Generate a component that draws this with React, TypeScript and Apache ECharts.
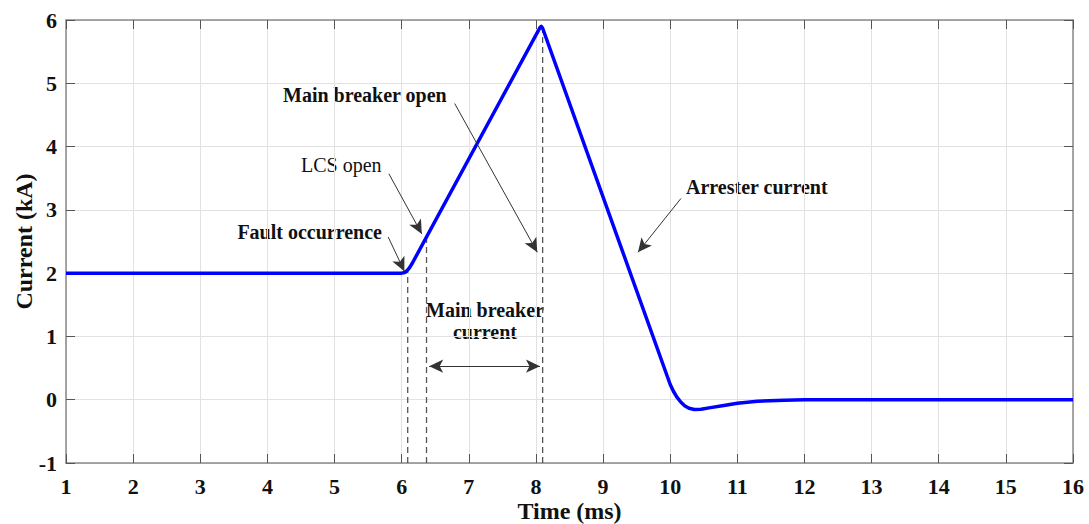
import React, { useEffect, useRef } from "react";
import * as echarts from "echarts";

// Branch current during a DC fault interruption (time in ms, current in kA)
const currentTrace: [number, number][] = [
  [1.0, 2.0], [2.0, 2.0], [3.0, 2.0], [4.0, 2.0], [5.0, 2.0], [6.0, 2.0],
  [6.03, 2.005], [6.06, 2.02], [6.09, 2.05], [6.12, 2.09], [6.16, 2.16],
  [8.06, 5.88], [8.08, 5.9], [8.1, 5.87],
  [10.0, 0.24], [10.05, 0.13], [10.1, 0.04], [10.16, -0.04], [10.22, -0.1],
  [10.28, -0.135], [10.36, -0.155], [10.46, -0.15], [10.6, -0.125], [10.8, -0.09],
  [11.0, -0.055], [11.3, -0.025], [11.7, -0.008], [12.0, 0.0], [13.0, 0.0],
  [14.0, 0.0], [15.0, 0.0], [16.0, 0.0],
];

// Event instants (ms) with the current reached at each one (kA)
const faultTime = 6.09;
const faultLevel = 2.04;
const lcsTime = 6.37;
const lcsLevel = 2.58;
const peakTime = 8.1;
const peakLevel = 5.86;

const xTicks = [1, 16, 1];
const yTicks = [-1, 6, 1];

// Annotation arrows: [start, tip] in (ms, kA)
const arrowMainBreakerOpen: [number, number][] = [[6.79, 4.68], [8.02, 2.33]];
const arrowLcsOpen: [number, number][] = [[5.81, 3.57], [6.3, 2.62]];
const arrowFault: [number, number][] = [[5.8, 2.57], [6.04, 2.03]];
const arrowArrester: [number, number][] = [[10.16, 3.18], [9.52, 2.33]];
const spanMainBreaker: [number, number][] = [[6.41, 0.53], [8.06, 0.53]];

const FONT = '"Liberation Serif", "Times New Roman", serif';

export default function App() {
  const ref = useRef<HTMLDivElement>(null);

  useEffect(() => {
    document.body.style.margin = "0";
    document.documentElement.style.overflow = "hidden";
    if (!ref.current) return;
    const chart = echarts.init(ref.current, undefined, { renderer: "svg" });

    const frameLine = { show: true, onZero: false, lineStyle: { color: "#8a8a8a", width: 1.5 } };
    const innerTicks = { show: true, inside: true, length: 9, lineStyle: { color: "#555", width: 1 } };
    const tickLabel = { color: "#111", fontFamily: FONT, fontWeight: "bold" as const, fontSize: 22 };

    const arrowLine = (pts: [number, number][], both = false) => ({
      silent: true,
      symbol: both ? ["arrow", "arrow"] : ["none", "arrow"],
      symbolSize: [10, 14],
      label: { show: false },
      lineStyle: { color: "#333", width: 1, type: "solid" as const },
      data: [[{ coord: pts[0] }, { coord: pts[1] }]],
    });

    const dashed = (t: number, level: number) => ({
      type: "line" as const,
      data: [[t, yTicks[0]], [t, level]],
      symbol: "none",
      silent: true,
      z: 1,
      lineStyle: { color: "#555", width: 1.3, type: [6, 4] as number[] },
    });

    const emptyLine = (pts: [number, number][], both = false) => ({
      type: "line" as const,
      data: [],
      symbol: "none",
      markLine: arrowLine(pts, both),
    });

    const note = (text: string, x: number, y: number, align: string, bold = true) => ({
      type: "text",
      x,
      y,
      style: {
        text,
        font: `${bold ? "bold " : ""}20px ${FONT}`,
        fill: "#111",
        align,
        verticalAlign: "middle",
      },
    });

    chart.setOption({
      animation: false,
      backgroundColor: "#fff",
      grid: { left: 66, right: 16, top: 20, bottom: 61, outerBoundsMode: "none" },
      xAxis: [
        {
          type: "value",
          min: xTicks[0],
          max: xTicks[1],
          interval: xTicks[2],
          name: "Time (ms)",
          nameLocation: "middle",
          nameMoveOverlap: false,
          nameGap: 36,
          nameTextStyle: { ...tickLabel, fontSize: 24, lineHeight: 24 },
          axisLine: frameLine,
          axisTick: innerTicks,
          axisLabel: { ...tickLabel, margin: 12 },
          splitLine: { show: true, lineStyle: { color: "#e2e2e2", width: 1 } },
        },
        {
          type: "value",
          position: "top",
          min: xTicks[0],
          max: xTicks[1],
          interval: xTicks[2],
          axisLine: frameLine,
          axisTick: innerTicks,
          axisLabel: { show: false },
          splitLine: { show: false },
        },
      ],
      yAxis: [
        {
          type: "value",
          min: yTicks[0],
          max: yTicks[1],
          interval: yTicks[2],
          name: "Current (kA)",
          nameLocation: "middle",
          nameMoveOverlap: false,
          nameGap: 30,
          nameTextStyle: { ...tickLabel, fontSize: 24 },
          axisLine: frameLine,
          axisTick: innerTicks,
          axisLabel: { ...tickLabel, margin: 9 },
          splitLine: { show: true, lineStyle: { color: "#e2e2e2", width: 1 } },
        },
        {
          type: "value",
          position: "right",
          min: yTicks[0],
          max: yTicks[1],
          interval: yTicks[2],
          axisLine: frameLine,
          axisTick: innerTicks,
          axisLabel: { show: false },
          splitLine: { show: false },
        },
      ],
      series: [
        dashed(faultTime, faultLevel),
        dashed(lcsTime, lcsLevel),
        dashed(peakTime, peakLevel),
        {
          type: "line",
          data: currentTrace,
          symbol: "none",
          z: 3,
          lineStyle: { color: "#0000ff", width: 3.5, join: "round" },
        },
        emptyLine(arrowMainBreakerOpen),
        emptyLine(arrowLcsOpen),
        emptyLine(arrowFault),
        emptyLine(arrowArrester),
        emptyLine(spanMainBreaker, true),
      ],
      graphic: [
        note("Main breaker open", 283, 95, "left"),
        note("LCS open", 301, 165, "left", false),
        note("Fault occurrence", 382, 232, "right"),
        note("Arrester current", 686, 187, "left"),
        note("Main breaker", 485, 310, "center"),
        note("current", 485, 332, "center"),
      ],
    });

    return () => chart.dispose();
  }, []);

  return <div ref={ref} style={{ width: 1089, height: 524 }} />;
}
